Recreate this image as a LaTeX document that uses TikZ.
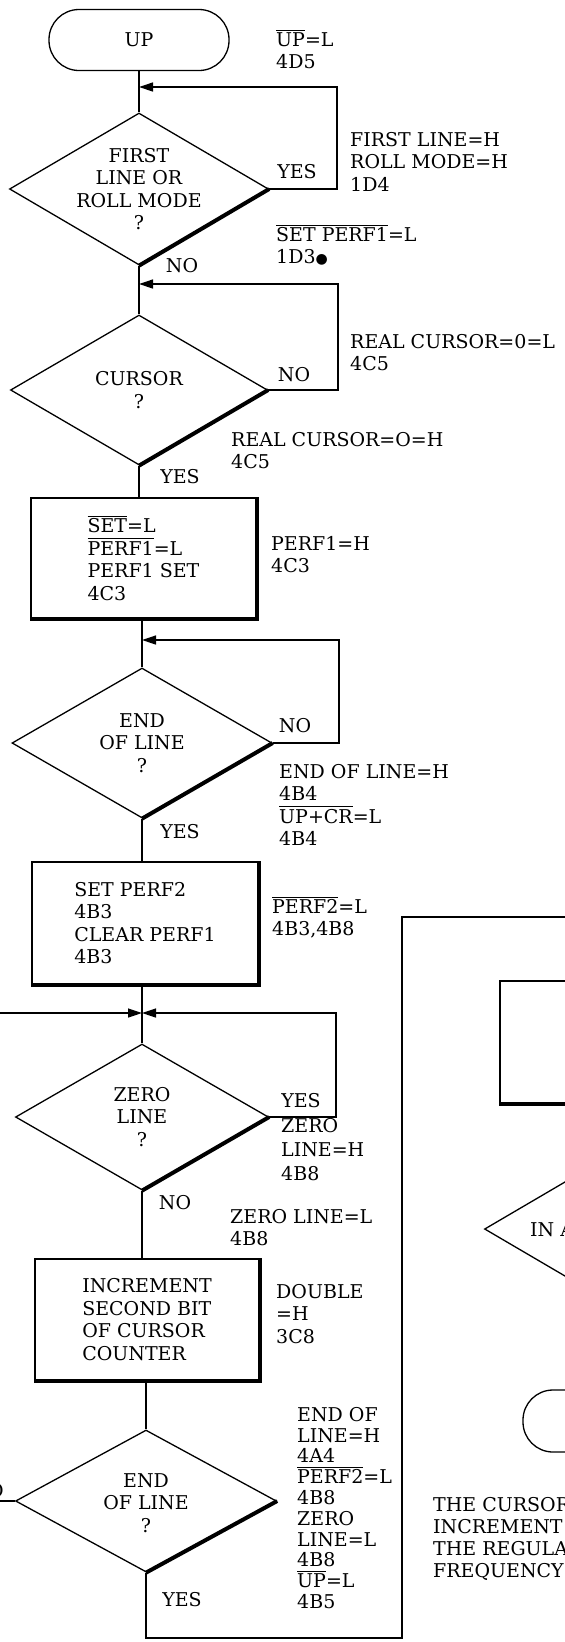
\documentclass[tikz,border=0pt]{standalone}
\usepackage{fontspec}
\setmainfont{DejaVu Serif}
\newfontfamily\dejavu{DejaVu Sans}
\usetikzlibrary{shapes.geometric,arrows.meta}
\newcommand\ovl[1]{$\overline{\hbox{\rule{0pt}{15.3pt}#1}}$}
\newcommand\eqs{=}
\newcommand\bodyfont{\fontsize{19}{22.5}\selectfont}
\begin{document}
\setlength{\lineskiplimit}{-20pt}
\begin{tikzpicture}[x=1pt,y=-1pt,
  font=\bodyfont,
  ln/.style={line width=1.3pt},
  arr/.style={ln,-{Triangle[length=14pt,width=9pt]}},
  thk/.style={line width=4pt},
  dec/.style={draw,ln,shape=diamond,inner sep=0pt},
  proc/.style={draw,ln,rectangle,inner sep=0pt,align=left},
  term/.style={draw,ln,rectangle,rounded corners=30pt,minimum width=180pt,minimum height=61pt,inner sep=0pt},
  lbl/.style={anchor=north west,align=left,inner sep=0pt,execute at begin node={\rule{0pt}{20pt}}},
  tag/.style={inner sep=0pt},
  qtext/.style={align=center,inner sep=0pt}]
\useasboundingbox (0,0) rectangle (565,1642);
\clip (0,0) rectangle (565,1642);

% ---------- shapes ----------
\node[term] (up) at (139,40) {UP};
\node[dec,minimum width=259pt,minimum height=152pt] (d1) at (139,189) {};
\node[dec,minimum width=257pt,minimum height=150pt] (d2) at (139,390) {};
\node[proc,minimum width=225pt,minimum height=120pt] (b1) at (143.5,558)
  {\ovl{SET}\eqs L\\\ovl{PERF1}\eqs L\\PERF1 SET\\4C3};
\node[dec,minimum width=260pt,minimum height=150pt] (d3) at (142,743) {};
\node[proc,minimum width=226pt,minimum height=122pt] (b2) at (145,923)
  {SET PERF2\\4B3\\CLEAR PERF1\\4B3};
\node[dec,minimum width=253pt,minimum height=146pt] (d4) at (142,1117) {};
\node[proc,minimum width=224pt,minimum height=121pt] (b3) at (147,1319.5)
  {INCREMENT\\SECOND BIT\\OF CURSOR\\COUNTER};
\node[dec,minimum width=261pt,minimum height=142pt] (d5) at (146,1501) {};

% right column (cut by the edge)
\node[proc,minimum width=226pt,minimum height=122pt] (rb) at (613,1042) {};
\node[dec,minimum width=259pt,minimum height=152pt] (rd) at (614,1229) {};
\node[term,minimum height=62pt] (rt) at (613,1421) {};

% thick shadow edges
\draw[thk] (d1.east) -- (d1.south);
\draw[thk] (d2.east) -- (d2.south);
\draw[thk] (d3.east) -- (d3.south);
\draw[thk] (d4.east) -- (d4.south);
\draw[thk] (d5.east) -- (d5.south);
\draw[thk] (rd.east) -- (rd.south);
\draw[thk] (b1.north east) -- (b1.south east) -- (b1.south west);
\draw[thk] (b2.north east) -- (b2.south east) -- (b2.south west);
\draw[thk] (b3.north east) -- (b3.south east) -- (b3.south west);
\draw[thk] (rb.north east) -- (rb.south east) -- (rb.south west);

% ---------- texts in decisions ----------
\node[qtext] (t1) at (d1.center) {FIRST\\LINE OR\\ROLL MODE\\?};
\node[qtext] (t2) at (d2.center) {CURSOR\\?};
\node[qtext] (t3) at (d3.center) {END\\OF LINE\\?};
\node[qtext] (t4) at (d4.center) {ZERO\\LINE\\?};
\node[qtext] (t5) at ([yshift=-2pt]d5.center) {END\\OF LINE\\?};
\node[tag,anchor=west] (trd) at (530,1230) {IN A};

% ---------- connectors ----------
\coordinate (j1) at (139,87);   \coordinate (r1) at (337,87);
\coordinate (j2) at (139,284);  \coordinate (r2) at (338,284);
\coordinate (j3) at (142,640);  \coordinate (r3) at (339,640);
\coordinate (j4) at (142,1013); \coordinate (r4) at (336,1013);
\coordinate (lin4) at (-5,1013);
\coordinate (lin5) at (-5,1501);
\coordinate (k1) at (402,1638);
\coordinate (k2) at (402,917);
\coordinate (k3) at (575,917);

\draw[ln] (up.south) -- (d1.north);
\draw[arr] (d1.east) -| (r1) -- (j1);
\draw[ln] (d1.south) -- (d2.north);
\draw[arr] (d2.east) -| (r2) -- (j2);
\draw[ln] (d2.south) -- (d2.south |- b1.north);
\draw[ln] (d3.north |- b1.south) -- (d3.north);
\draw[arr] (d3.east) -| (r3) -- (j3);
\draw[ln] (d3.south) -- (d3.south |- b2.north);
\draw[ln] (d4.north |- b2.south) -- (d4.north);
\draw[arr] (d4.east) -| (r4) -- (j4);
\draw[arr] (lin4) -- (j4);
\draw[ln] (d4.south) -- (d4.south |- b3.north);
\draw[ln] (d5.north |- b3.south) -- (d5.north);
\draw[ln] (lin5) -- (d5.west);
\draw[ln] (d5.south) |- (k1) -- (k2) -- (k3);

% ---------- branch labels ----------
\node[tag] (y1) at (297,172) {YES};
\node[tag] (n1) at (182,266) {NO};
\node[tag] (n2) at (294,375) {NO};
\node[tag] (y2) at (180,477) {YES};
\node[tag] (n3) at (295,726) {NO};
\node[tag] (y3) at (180,832) {YES};
\node[tag] (y4) at (301,1101) {YES};
\node[tag] (n4) at (175,1203) {NO};
\node[tag] (y5) at (182,1600) {YES};
\node[tag,anchor=east] (n5) at (4,1491) {NO};

% ---------- signal notes ----------
\node[lbl] (a1) at (276,28.9) {\ovl{UP}\eqs L\\4D5};
\node[lbl] (a2) at (350,131.9) {FIRST LINE\eqs H\\ROLL MODE\eqs H\\1D4};
\node[lbl] (a3) at (276,223.9) {\ovl{SET PERF1}\eqs L\\1D3{\dejavu\fontsize{14}{14}\selectfont ●}};
\node[lbl] (a4) at (350,333.9) {REAL CURSOR\eqs 0\eqs L\\4C5};
\node[lbl] (a5) at (231,431.9) {REAL CURSOR\eqs O\eqs H\\4C5};
\node[lbl] (a6) at (271,535.9) {PERF1\eqs H\\4C3};
\node[lbl] (a7) at (279,763.9) {END OF LINE\eqs H\\4B4\\\ovl{UP+CR}\eqs L\\4B4};
\node[lbl] (a8) at (272,895.9) {\ovl{PERF2}\eqs L\\4B3,4B8};
\node[lbl,font=\fontsize{19}{24}\selectfont] (a9) at (281,1117.9) {ZERO\\LINE\eqs H\\4B8};
\node[lbl] (a10) at (230,1208.9) {ZERO LINE\eqs L\\4B8};
\node[lbl] (a11) at (276,1283.9) {DOUBLE\\\eqs H\\3C8};
\node[lbl,font=\fontsize{19}{20.8}\selectfont] (a12) at (297,1406.9)
  {END OF\\LINE\eqs H\\4A4\\\ovl{PERF2}\eqs L\\4B8\\ZERO\\LINE\eqs L\\4B8\\\ovl{UP}\eqs L\\4B5};
\node[lbl,font=\fontsize{19}{22}\selectfont] (a13) at (433,1496.9)
  {THE CURSOR\\INCREMENT\\THE REGULA\\FREQUENCY};
\end{tikzpicture}
\end{document}
